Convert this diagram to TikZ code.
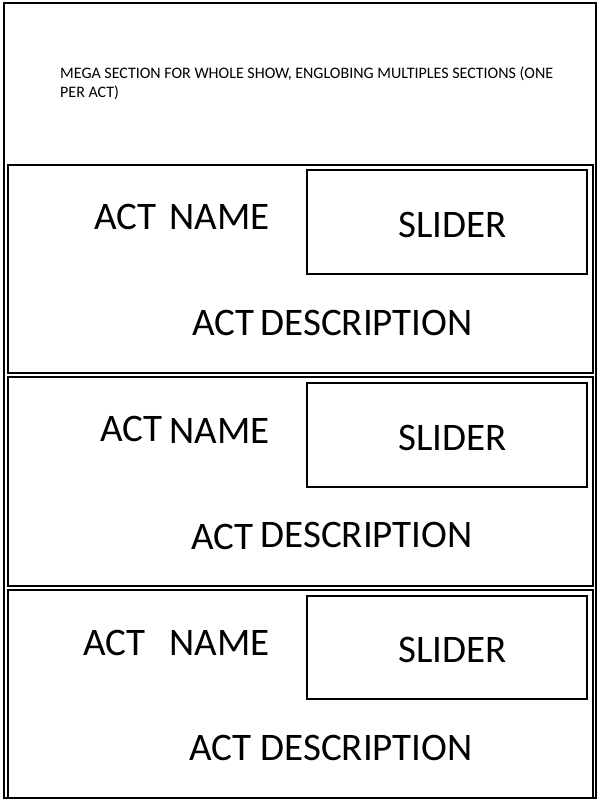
\documentclass[tikz,border=0pt]{standalone}
\usepackage{fontspec}
\setmainfont{Carlito}
\tikzset{%
  outline/.style={draw, line width=2pt},% frame of the whole show
  actbox/.style={draw, line width=2pt},% one section per act
  sliderbox/.style={draw, line width=2pt},% slider inside an act
  big/.style={inner sep=0pt, font=\fontsize{39}{47}\selectfont},% act texts
  small/.style={inner sep=0pt, align=left, font=\fontsize{16}{19}\selectfont}% show text
}

\begin{document}
\begin{tikzpicture}[x=1pt, y=-1pt]
\useasboundingbox (0,0) rectangle (600,800);

\draw[outline] (4,3) rectangle (596,798);
\node[small, anchor=base west] (mega) at (60,97) {MEGA SECTION FOR WHOLE SHOW, ENGLOBING MULTIPLES SECTIONS (ONE\\PER ACT)};

% act 1
\draw[actbox] (8,165) rectangle (593,373);
\draw[sliderbox] (307,170) rectangle (587,274);
\node[big, anchor=base west] (act1) at (94,229) {ACT};
\node[big, anchor=base east] (name1) at (270,229) {NAME};
\node[big, anchor=base west] (slider1) at (398,237) {SLIDER};
\node[big, anchor=base west] (actd1) at (192,335) {ACT};
\node[big, anchor=base east] (desc1) at (473,335) {DESCRIPTION};

% act 2
\draw[actbox] (8,377) rectangle (593,586);
\draw[sliderbox] (307,383) rectangle (587,487);
\node[big, anchor=base west] (act2) at (100,441) {ACT};
\node[big, anchor=base east] (name2) at (270,443) {NAME};
\node[big, anchor=base west] (slider2) at (398,450) {SLIDER};
\node[big, anchor=base west] (actd2) at (191,549) {ACT};
\node[big, anchor=base east] (desc2) at (473,547) {DESCRIPTION};

% act 3
\draw[actbox] (8,590) rectangle (593,798);
\draw[sliderbox] (307,596) rectangle (587,699);
\node[big, anchor=base west] (act3) at (83,655) {ACT};
\node[big, anchor=base east] (name3) at (270,655) {NAME};
\node[big, anchor=base west] (slider3) at (398,662) {SLIDER};
\node[big, anchor=base west] (actd3) at (189,760) {ACT};
\node[big, anchor=base east] (desc3) at (473,760) {DESCRIPTION};

\end{tikzpicture}
\end{document}
